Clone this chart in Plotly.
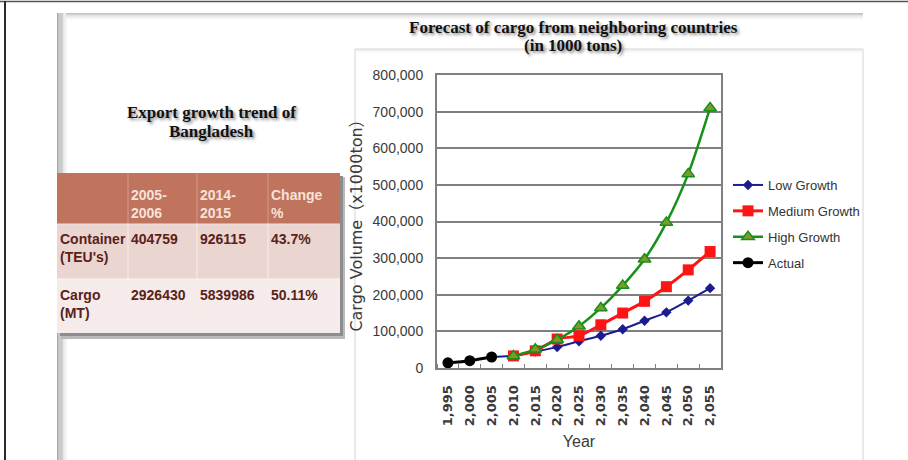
import plotly.graph_objects as go

# ---------------- data ----------------
years = [1995, 2000, 2005, 2010, 2015, 2020, 2025, 2030, 2035, 2040, 2045, 2050, 2055]

actual_years = [1995, 2000, 2005]
actual = [14000, 20000, 30000]

low_years = [2005, 2010, 2015, 2020, 2025, 2030, 2035, 2040, 2045, 2050, 2055]
low_growth = [30000, 34000, 45000, 57000, 73000, 88000, 106000, 129000, 152000, 184000, 218000]

fc_years = [2010, 2015, 2020, 2025, 2030, 2035, 2040, 2045, 2050, 2055]
medium_growth = [33000, 47000, 79000, 88000, 118000, 150000, 182000, 222000, 268000, 318000]
high_growth = [33000, 51000, 77000, 114000, 164000, 225000, 297000, 397000, 530000, 710000]

y_ticks = [0, 100000, 200000, 300000, 400000, 500000, 600000, 700000, 800000]

# export table
table_periods = ["2005-2006", "2014-2015"]
table_change_head = "Change %"
table_rows = ["Container (TEU's)", "Cargo (MT)"]
container_teu = [404759, 926115]
cargo_mt = [2926430, 5839986]
change_pct = ["43.7%", "50.11%"]

W, H = 908, 460


def px(x):
    return x / W


def py(y):
    return 1 - y / H


def rect(x0, y0, x1, y1, fill, line=None, lw=0):
    return dict(type="rect", xref="paper", yref="paper",
                x0=px(x0), x1=px(x1), y0=py(y1), y1=py(y0),
                fillcolor=fill, line=dict(color=line or fill, width=lw),
                layer="below")


def hline(x0, x1, y, color, w=1):
    return dict(type="line", xref="paper", yref="paper",
                x0=px(x0), x1=px(x1), y0=py(y), y1=py(y),
                line=dict(color=color, width=w), layer="below")


def vline(x, y0, y1, color, w=1):
    return dict(type="line", xref="paper", yref="paper",
                x0=px(x), x1=px(x), y0=py(y0), y1=py(y1),
                line=dict(color=color, width=w), layer="below")


shapes = []
annotations = []

# outer frame
shapes.append(hline(0, W, 1.5, "#555555", 1.5))
shapes.append(vline(5, 1, H, "#2b2b2b", 2))

# slide shadows (left and top) as stepped gradients
left_greys = ["#a9a9a9", "#b3b3b3", "#bdbdbd", "#c8c8c8", "#d4d4d4", "#e0e0e0", "#ebebeb", "#f5f5f5"]
for i, c in enumerate(left_greys):
    shapes.append(rect(57 + i * 1.25, 13, 57 + (i + 1) * 1.25, H, c))
top_greys = ["#c4c4c4", "#d0d0d0", "#dcdcdc", "#e6e6e6", "#f0f0f0", "#f8f8f8"]
for i, c in enumerate(top_greys):
    shapes.append(rect(66, 13 + i * 1.1, 863, 13 + (i + 1) * 1.1, c))

# chart panel
shapes.append(rect(355, 49, 863, H + 5, "#ffffff", "#d2d2d2", 1))
for i, c in enumerate(["#e4e4e4", "#efefef", "#f7f7f7"]):
    shapes.append(hline(356, 863, 50 + i, c, 1))

# ---------------- table ----------------
col_edges = [57, 128, 197, 268, 340]
row_edges = [173, 224, 279, 333]
head_fill = "#c0745e"
row_fills = ["#ebd5d0", "#f5ebea"]
text_dark = "#5a2219"
text_head = "#f7e2da"
tfont = "Liberation Sans, Arial, sans-serif"

# drop shadow
shapes.append(rect(col_edges[0] + 4, row_edges[0] + 4, col_edges[-1] + 5, row_edges[-1] + 6, "#b9b9b9"))
shapes.append(rect(col_edges[0] + 3, row_edges[0] + 3, col_edges[-1] + 3, row_edges[-1] + 3, "#8d8d8d"))
shapes.append(rect(col_edges[0], row_edges[0], col_edges[-1], row_edges[1], head_fill))
shapes.append(rect(col_edges[0], row_edges[1], col_edges[-1], row_edges[2], row_fills[0]))
shapes.append(rect(col_edges[0], row_edges[2], col_edges[-1], row_edges[3], row_fills[1]))
for xe in col_edges[1:-1]:
    shapes.append(vline(xe, row_edges[0], row_edges[1], "#d49a88", 1))
    shapes.append(vline(xe, row_edges[1], row_edges[3], "#f6eeec", 1))
shapes.append(hline(col_edges[0], col_edges[-1], row_edges[1], "#f2e2de", 1))
shapes.append(hline(col_edges[0], col_edges[-1], row_edges[2], "#faf4f3", 1))


def cell_text(txt, col, top, color):
    annotations.append(dict(
        xref="paper", yref="paper", x=px(col_edges[col] + 0.5), y=py(top),
        xanchor="left", yanchor="top", align="left", showarrow=False,
        text=txt, font=dict(family=tfont, size=14, color=color, weight=700)))


head_texts = [p.replace("-", "-<br>") for p in table_periods] + [table_change_head.replace(" ", "<br>")]
for j, t in enumerate(head_texts):
    cell_text(t, j + 1, 185, text_head)

body = [
    [table_rows[0].replace(" ", "<br>"), str(container_teu[0]), str(container_teu[1]), change_pct[0]],
    [table_rows[1].replace(" ", "<br>"), str(cargo_mt[0]), str(cargo_mt[1]), change_pct[1]],
]
row_tops = [229, 285]
for r, row in enumerate(body):
    for j, t in enumerate(row):
        cell_text(t, j, row_tops[r], text_dark)

serif = "Liberation Serif, Times New Roman, serif"
title_shadow = "2px 2px 3px #8a8a8a"
for txt, yy in [("Export growth trend of", 112), ("Bangladesh", 131)]:
    annotations.append(dict(xref="paper", yref="paper", x=px(211), y=py(yy),
                            xanchor="center", yanchor="middle", showarrow=False, text=txt,
                            font=dict(family=serif, size=17, color="#111111", weight=700,
                                      shadow=title_shadow)))
for txt, yy in [("Forecast of cargo from neighboring countries", 28), ("(in 1000 tons)", 46)]:
    annotations.append(dict(xref="paper", yref="paper", x=px(573), y=py(yy),
                            xanchor="center", yanchor="middle", showarrow=False, text=txt,
                            font=dict(family=serif, size=17, color="#111111", weight=700,
                                      shadow=title_shadow)))

# ---------------- chart ----------------
fig = go.Figure()
fig.add_trace(go.Scatter(
    x=low_years, y=low_growth, name="Low Growth", mode="lines+markers",
    line=dict(color="#1c1c8e", width=2, shape="spline", smoothing=0.8),
    marker=dict(symbol="diamond", size=8, color="#1c1c8e"), legendgroup="a"))
fig.add_trace(go.Scatter(
    x=fc_years, y=medium_growth, name="Medium Growth", mode="lines+markers",
    line=dict(color="#ff1414", width=3, shape="spline", smoothing=0.8),
    marker=dict(symbol="square", size=11, color="#ff1414"), legendgroup="b"))
fig.add_trace(go.Scatter(
    x=fc_years, y=high_growth, name="High Growth", mode="lines+markers",
    line=dict(color="#17901a", width=2.5, shape="spline", smoothing=0.8),
    marker=dict(symbol="triangle-up", size=11, color="#7c9c2a",
                line=dict(color="#17901a", width=1.5)), legendgroup="c"))
fig.add_trace(go.Scatter(
    x=actual_years, y=actual, name="Actual", mode="lines+markers",
    line=dict(color="#000000", width=3, shape="spline", smoothing=0.8),
    marker=dict(symbol="circle", size=11, color="#000000"), legendgroup="d"))

grey_txt = "#3a3a3a"

fig.update_xaxes(
    domain=[px(437), px(721)], range=[1992.5, 2057.5], automargin=False,
    tickvals=years, tickformat=",", tickangle=-90,
    tickfont=dict(family="DejaVu Sans, sans-serif", size=13, color=grey_txt, weight=700),
    showgrid=False, zeroline=False, ticks="", ticklabelstandoff=10,
    minor=dict(tick0=1992.5, dtick=5, ticks="inside", ticklen=4, tickcolor="#808080"),
    showline=True, linecolor="#808080", linewidth=2, mirror=True,
    title=dict(text="Year", font=dict(family="Liberation Sans, Arial, sans-serif",
                                      size=16, color=grey_txt), standoff=10))
fig.update_yaxes(
    domain=[py(368), py(75)], range=[0, 800000], automargin=False,
    tickvals=y_ticks, tickformat=",",
    tickfont=dict(family="Liberation Sans, Arial, sans-serif", size=14, color=grey_txt),
    showgrid=True, gridcolor="#7f7f7f", gridwidth=2, zeroline=False,
    ticks="", ticklabelstandoff=9,
    showline=True, linecolor="#808080", linewidth=2, mirror=True,
    title=dict(text="Cargo Volume（x1000ton）",
               font=dict(family="DejaVu Sans, Noto Sans CJK JP, sans-serif",
                         size=16, color=grey_txt), standoff=6))

fig.update_layout(
    width=W, height=H, margin=dict(l=0, r=0, t=0, b=0, autoexpand=False),
    paper_bgcolor="#ffffff", plot_bgcolor="#c3c3c3",
    showlegend=True,
    legend=dict(x=px(728), y=py(170), xanchor="left", yanchor="top",
                bgcolor="rgba(0,0,0,0)", itemwidth=30, traceorder="grouped",
                tracegroupgap=6,
                font=dict(family="Liberation Sans, Arial, sans-serif", size=13, color="#333333")),
    shapes=shapes, annotations=annotations,
)

fig.write_html("out.html")
